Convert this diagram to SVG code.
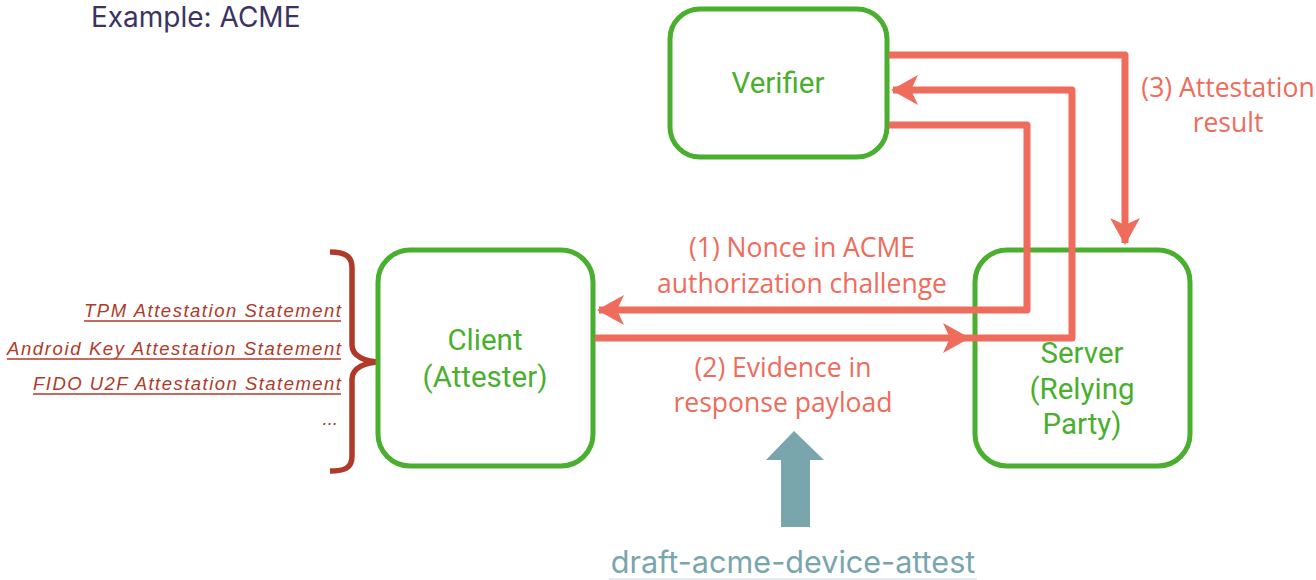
<svg xmlns="http://www.w3.org/2000/svg" width="1316" height="580" viewBox="0 0 1316 580">
  <defs>
    <style>
      .node { fill: #ffffff; stroke: #4aaf2e; stroke-width: 5; }
      .node-label { font-family: Roboto, "Liberation Sans", sans-serif; font-size: 29.5px; fill: #4aaf2e; text-anchor: middle; }
      .flow { fill: none; stroke: #ef6b5b; stroke-width: 7; stroke-linejoin: round; }
      .flow-label { font-family: "Open Sans", "Liberation Sans", sans-serif; font-size: 26.5px; fill: #ef6b5b; text-anchor: middle; }
      .format { font-family: "Liberation Sans", sans-serif; font-style: italic; font-size: 18.5px; fill: #b03a2a; text-anchor: end; }
      .rule { stroke: #b03a2a; stroke-width: 1.6; }
      .title { font-family: "Inter", "Liberation Sans", sans-serif; font-size: 28px; fill: #3b3462; }
      .draft { font-family: "Inter", "Liberation Sans", sans-serif; font-size: 30.6px; fill: #79a6ad; text-anchor: middle; }
    </style>
    <marker id="head" markerUnits="userSpaceOnUse" markerWidth="32" markerHeight="32" viewBox="-27 -16 32 32" refX="0" refY="0" orient="auto">
      <path d="M2,0 L-25,-15 L-18,0 L-25,15 Z" fill="#ef6b5b"/>
    </marker>
  </defs>

  <text class="title" x="91" y="27">Example: ACME</text>

  <!-- attestation statement formats, underlined like links -->
  <g id="formats">
    <text class="format" x="341" y="317" textLength="257" lengthAdjust="spacing">TPM Attestation Statement</text>
    <line class="rule" x1="84" y1="321" x2="341" y2="321"/>
    <text class="format" x="341" y="355" textLength="334" lengthAdjust="spacing">Android Key Attestation Statement</text>
    <line class="rule" x1="7" y1="359" x2="341" y2="359"/>
    <text class="format" x="341" y="390" textLength="308" lengthAdjust="spacing">FIDO U2F Attestation Statement</text>
    <line class="rule" x1="33" y1="394" x2="341" y2="394"/>
    <text class="format" x="338" y="425">...</text>
    <path d="M330,252 C345,252 352,256 352,268 V345 C352,356 365,362 381,362 C365,362 352,368 352,379 V456 C352,468 345,471 330,471" fill="none" stroke="#b03a2a" stroke-width="5.5"/>
  </g>

  <g id="verifier">
    <rect class="node" x="670" y="9" width="217" height="148" rx="30"/>
    <text class="node-label" x="778" y="93">Verifier</text>
  </g>

  <g id="client">
    <rect class="node" x="378" y="250" width="215" height="216" rx="32"/>
    <text class="node-label" x="485" y="350">Client</text>
    <text class="node-label" x="485" y="387">(Attester)</text>
  </g>

  <g id="server">
    <rect class="node" x="975" y="250" width="215" height="216" rx="32"/>
    <text class="node-label" x="1082" y="363">Server</text>
    <text class="node-label" x="1082" y="399">(Relying</text>
    <text class="node-label" x="1082" y="434">Party)</text>
  </g>

  <!-- connectors -->
  <g id="connectors">
    <path class="flow" d="M889,55 H1125 V243" marker-end="url(#head)"/>
    <path class="flow" d="M889,125 H1027 V310 H599" marker-end="url(#head)"/>
    <path class="flow" d="M595,338 H968" marker-end="url(#head)"/>
    <path class="flow" d="M968,338 H1072 V90 H893" marker-end="url(#head)"/>
  </g>

  <g id="labels">
    <text class="flow-label" x="1228" y="97">(3) Attestation</text>
    <text class="flow-label" x="1228" y="132">result</text>
    <text class="flow-label" x="802" y="257">(1) Nonce in ACME</text>
    <text class="flow-label" x="802" y="293">authorization challenge</text>
    <text class="flow-label" x="783" y="377">(2) Evidence in</text>
    <text class="flow-label" x="783" y="412">response payload</text>
  </g>

  <g id="draft">
    <path d="M794,431 L824,460 L810,460 L810,527 L781,527 L781,460 L766,460 Z" fill="#79a6ad"/>
    <text class="draft" x="793" y="573">draft-acme-device-attest</text>
    <line x1="609" y1="579" x2="977" y2="579" stroke="#dbe7e9" stroke-width="1.5"/>
  </g>
</svg>
